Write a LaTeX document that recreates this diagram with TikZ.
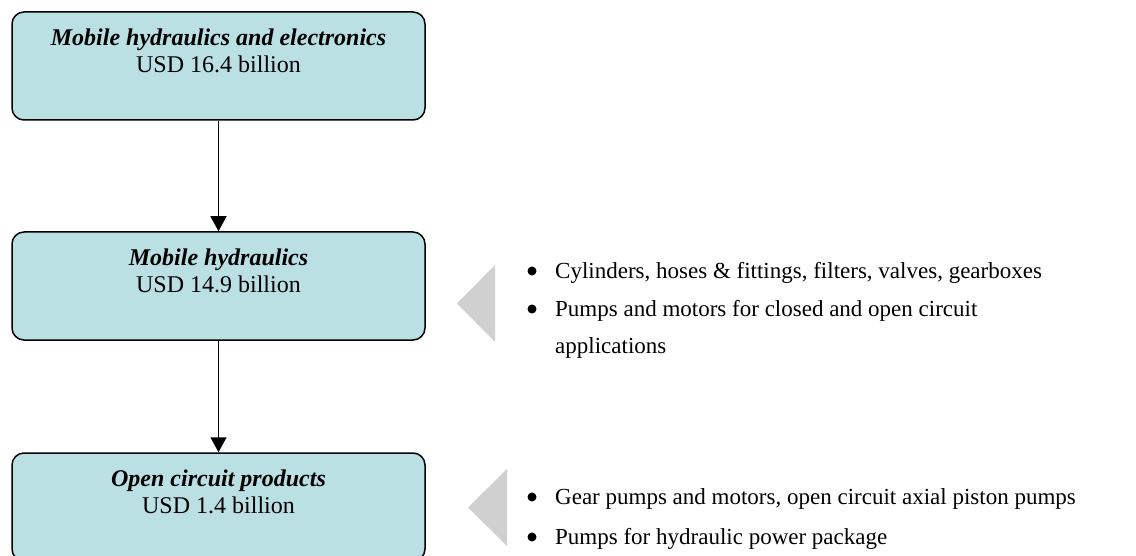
\documentclass[tikz,border=0pt]{standalone}
\usepackage{fontspec}
\setmainfont{Liberation Serif}
\usetikzlibrary{positioning}
\usetikzlibrary{arrows.meta}

\definecolor{boxfill}{RGB}{186,224,227}
\definecolor{wedgegray}{RGB}{208,208,208}

\tikzset{
  segbox/.style={draw,line width=1.5pt,rounded corners=12pt,fill=boxfill,
    minimum width=413pt,minimum height=108pt,inner sep=0pt},
  segtext/.style={align=center,inner sep=0pt,font=\fontsize{24}{27}\selectfont},
  dot/.style={circle,fill,inner sep=0pt,minimum size=9pt},
  itemtext/.style={inner sep=0pt,anchor=mid west,font=\fontsize{23}{28}\selectfont},
  flow/.style={line width=1.5pt,-{Triangle[length=15pt,width=16pt]}}
}

\begin{document}
\begin{tikzpicture}[x=1pt,y=-1pt]
  \useasboundingbox (0,0) rectangle (1136,556);

  % segment boxes
  \node[segbox] (mhe) at (218.5,66) {};
  \node[segbox] (mh) at (218.5,286) {};
  \node[segbox] (ocp) at (218.5,507) {};

  \node[segtext,below=17pt of mhe.north] (mhetext)
    {\textbf{\textit{Mobile hydraulics and electronics}}\\USD 16.4 billion};
  \node[segtext,below=17pt of mh.north] (mhtext)
    {\textbf{\textit{Mobile hydraulics}}\\USD 14.9 billion};
  \node[segtext,below=17pt of ocp.north] (ocptext)
    {\textbf{\textit{Open circuit products}}\\USD 1.4 billion};

  \draw[flow] (mhe) -- (mh);
  \draw[flow] (mh) -- (ocp);

  % grey wedges
  \fill[wedgegray] (495,265) -- (457,303.5) -- (495,342) -- cycle;
  \fill[wedgegray] (507,469) -- (468,507.5) -- (507,546) -- cycle;

  % product lists
  \node[dot] (d1) at (532,271) {};
  \node[itemtext] (cyl) at (555,276) {Cylinders, hoses \& fittings, filters, valves, gearboxes};
  \node[dot] (d2) at (532,309) {};
  \node[itemtext] (pmp) at (555,314) {Pumps and motors for closed and open circuit};
  \node[itemtext] (app) at (555,351) {applications};

  \node[dot] (d3) at (532,497) {};
  \node[itemtext] (gear) at (555,502) {Gear pumps and motors, open circuit axial piston pumps};
  \node[dot] (d4) at (532,537) {};
  \node[itemtext] (hpp) at (555,542) {Pumps for hydraulic power package};
\end{tikzpicture}
\end{document}
